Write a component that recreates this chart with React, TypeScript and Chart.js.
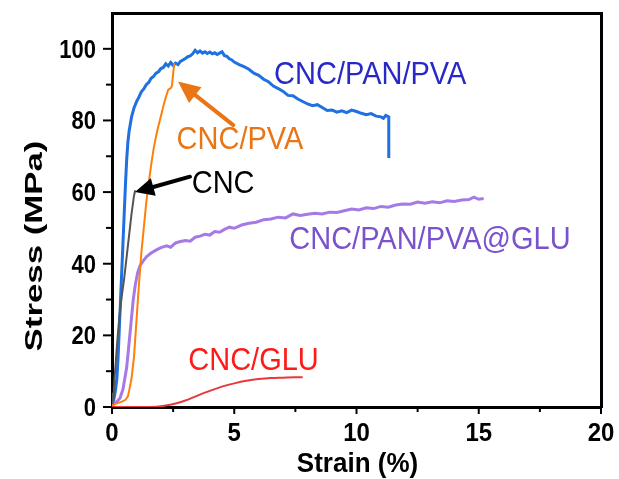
import React, { useEffect, useRef } from 'react';
import { Chart, registerables } from 'chart.js';

Chart.register(...registerables);

// ---- axis ticks ----
const xMajorTicks = [0, 5, 10, 15, 20];
const xMinorTicks = [2.5, 7.5, 12.5, 17.5];
const yMajorTicks = [0, 20, 40, 60, 80, 100];
const yMinorTicks = [10, 30, 50, 70, 90];

// ---- series: strain (%) / stress (MPa) ----
const panPvaStrain = [0, 0.05, 0.1, 0.15, 0.2, 0.25, 0.3, 0.35, 0.4, 0.45, 0.5, 0.55, 0.6, 0.65, 0.7, 0.8, 0.9, 1.0, 1.1, 1.2, 1.3, 1.4, 1.5, 1.6, 1.7, 1.8, 1.9, 2.0, 2.1, 2.2, 2.3, 2.4, 2.5, 2.6, 2.7, 2.8, 2.9, 3.0, 3.1, 3.2, 3.3, 3.4, 3.5, 3.6, 3.7, 3.8, 3.9, 4.0, 4.1, 4.2, 4.3, 4.4, 4.5, 4.6, 4.7, 4.8, 4.9, 5.0, 5.2, 5.4, 5.6, 5.8, 6.0, 6.2, 6.4, 6.6, 6.8, 7.0, 7.2, 7.4, 7.6, 7.8, 8.0, 8.2, 8.4, 8.6, 8.8, 9.0, 9.2, 9.4, 9.6, 9.8, 10.0, 10.2, 10.4, 10.6, 10.8, 11.0, 11.1, 11.2, 11.32, 11.32];
const panPvaStress = [0.5, 1.5, 3, 5, 8, 14, 22, 30, 38, 46, 54, 62, 69, 74, 77, 81, 83.5, 85.2, 86.5, 88, 88.8, 90, 90.6, 91.8, 92.3, 93.2, 93.6, 94.5, 94.8, 95.8, 95.2, 96.2, 95.4, 96.0, 95.6, 96.5, 96.9, 97.3, 97.8, 98.0, 98.6, 99.6, 98.9, 99.4, 98.8, 99.2, 98.7, 99.1, 98.6, 98.9, 98.4, 98.8, 99.2, 98.1, 97.9, 97.2, 96.9, 96.3, 95.6, 95.0, 94.3, 93.2, 92.6, 91.5, 90.8, 89.6, 88.9, 88.1, 87.0, 86.9, 86.0, 85.3, 84.6, 84.1, 84.4, 83.6, 82.8, 82.9, 82.3, 82.7, 82.2, 82.9, 82.5, 82.0, 81.6, 81.9, 81.2, 81.0, 80.6, 81.4, 81.0, 69.5];

const cncStrain = [0, 0.03, 0.06, 0.1, 0.15, 0.2, 0.3, 0.4, 0.5, 0.6, 0.7, 0.8, 0.9, 0.95];
const cncStress = [0, 4, 2, 8, 12, 17, 25, 31, 36, 42, 48, 54, 59, 60.5];

const gluPanPvaStrain = [0, 0.1, 0.2, 0.33, 0.45, 0.6, 0.7, 0.8, 0.87, 0.95, 1.05, 1.15, 1.3, 1.42, 1.6, 1.8, 2.0, 2.24, 2.4, 2.6, 2.8, 3.0, 3.2, 3.4, 3.6, 3.8, 4.0, 4.2, 4.4, 4.6, 4.8, 5.0, 5.3, 5.6, 5.9, 6.2, 6.5, 6.8, 7.1, 7.4, 7.7, 8.0, 8.3, 8.6, 8.9, 9.2, 9.5, 9.8, 10.1, 10.4, 10.7, 11.0, 11.3, 11.6, 11.9, 12.2, 12.5, 12.8, 13.1, 13.4, 13.7, 14.0, 14.3, 14.6, 14.8, 15.0, 15.2];
const gluPanPvaStress = [1, 1.2, 1.5, 2.5, 5, 11, 18, 25, 30, 34, 37.5, 39.5, 41, 42, 43, 43.8, 44.5, 45, 44.6, 45.8, 46.2, 46.5, 46.3, 47.4, 47.7, 48.2, 48.0, 49.0, 48.8, 49.6, 50.2, 49.9, 50.8, 51.3, 51.6, 52.3, 52.5, 53.0, 52.8, 53.9, 53.5, 53.8, 54.1, 53.9, 54.4, 54.3, 54.8, 55.3, 55.0, 55.6, 55.4, 56.0, 55.8, 56.4, 56.7, 56.6, 57.2, 56.9, 57.3, 57.0, 57.6, 57.4, 57.8, 57.9, 58.6, 58.0, 58.2];

const pvaStrain = [0, 0.2, 0.4, 0.55, 0.65, 0.7, 0.8, 0.9, 1.0, 1.1, 1.2, 1.3, 1.4, 1.5, 1.6, 1.7, 1.8, 1.9, 2.0, 2.1, 2.2, 2.3, 2.4, 2.45, 2.5, 2.55];
const pvaStress = [0.5, 1, 1.5, 2, 3, 4.5, 8, 14, 24, 34, 43, 50, 57, 62.5, 67.5, 72, 75.5, 78.5, 81.2, 84, 86.5, 88.6, 89, 89.6, 93, 96];

const gluStrain = [0, 1, 1.8, 2.2, 2.6, 3.0, 3.4, 3.8, 4.2, 4.6, 5.0, 5.5, 6.0, 6.5, 7.0, 7.5, 7.8];
const gluStress = [0, 0, 0.1, 0.4, 1, 1.8, 2.9, 4.0, 5.0, 5.9, 6.6, 7.3, 7.8, 8.1, 8.2, 8.3, 8.3];

// ---- annotations (data coordinates) ----
const labelTexts = ['CNC/PAN/PVA', 'CNC/PVA', 'CNC', 'CNC/PAN/PVA@GLU', 'CNC/GLU'];
const labelX = [6.63, 2.64, 3.26, 7.25, 3.12];
const labelY = [90.3, 72.0, 59.7, 44.1, 10.3];
const labelColors = ['#2828c8', '#ea7514', '#000000', '#7a52cc', '#ff1a1a'];

const arrowFromX = [4.96, 3.19];
const arrowFromY = [78.7, 64.3];
const arrowToX = [2.70, 0.94];
const arrowToY = [90.9, 60.0];
const arrowColors = ['#ea7514', '#000000'];

const toPts = (xs: number[], ys: number[]) => xs.map((x, i) => ({ x, y: ys[i] }));

const FONT = '"Liberation Sans", Arial, sans-serif';

const decorPlugin = {
  id: 'decor',
  afterDatasetsDraw(chart: any) {
    const ctx = chart.ctx as CanvasRenderingContext2D;
    const xs = chart.scales.x;
    const ys = chart.scales.y;
    const L = xs.left;
    const B = ys.bottom;
    ctx.save();
    ctx.setLineDash([]);
    ctx.globalAlpha = 1;
    ctx.strokeStyle = '#000000';
    ctx.lineWidth = 2;
    ctx.lineCap = 'butt';
    const tick = (x1: number, y1: number, x2: number, y2: number) => {
      ctx.beginPath();
      ctx.moveTo(x1, y1);
      ctx.lineTo(x2, y2);
      ctx.stroke();
    };
    xMajorTicks.forEach((v) => { const p = xs.getPixelForValue(v); tick(p, B + 1, p, B + 7); });
    xMinorTicks.forEach((v) => { const p = xs.getPixelForValue(v); tick(p, B + 1, p, B + 5); });
    yMajorTicks.forEach((v) => { const p = ys.getPixelForValue(v); tick(L - 9, p, L - 1, p); });
    yMinorTicks.forEach((v) => { const p = ys.getPixelForValue(v); tick(L - 6, p, L - 1, p); });

    // tick labels
    ctx.fillStyle = '#000';
    ctx.font = 'bold 22px ' + FONT;
    ctx.textBaseline = 'alphabetic';
    ctx.textAlign = 'right';
    yMajorTicks.forEach((v) => {
      const p = ys.getPixelForValue(v);
      ctx.save();
      ctx.translate(L - 16, p + 9);
      ctx.scale(1, 1.15);
      ctx.fillText(String(v), 0, 0);
      ctx.restore();
    });
    ctx.font = 'bold 24px ' + FONT;
    ctx.textAlign = 'center';
    xMajorTicks.forEach((v) => {
      const p = xs.getPixelForValue(v);
      ctx.save();
      ctx.translate(p, B + 34);
      ctx.scale(1, 1.08);
      ctx.fillText(String(v), 0, 0);
      ctx.restore();
    });

    // arrows
    arrowFromX.forEach((_, i) => {
      const x1 = xs.getPixelForValue(arrowFromX[i]);
      const y1 = ys.getPixelForValue(arrowFromY[i]);
      const x2 = xs.getPixelForValue(arrowToX[i]);
      const y2 = ys.getPixelForValue(arrowToY[i]);
      const ang = Math.atan2(y2 - y1, x2 - x1);
      const headLen = i === 0 ? 22 : 19;
      const headHalf = i === 0 ? 10 : 9;
      const bx = x2 - headLen * Math.cos(ang);
      const by = y2 - headLen * Math.sin(ang);
      ctx.strokeStyle = arrowColors[i];
      ctx.fillStyle = arrowColors[i];
      ctx.lineWidth = 4;
      ctx.lineCap = 'round';
      ctx.beginPath();
      ctx.moveTo(x1, y1);
      ctx.lineTo(bx, by);
      ctx.stroke();
      ctx.beginPath();
      ctx.moveTo(x2, y2);
      ctx.lineTo(bx + headHalf * Math.sin(ang), by - headHalf * Math.cos(ang));
      ctx.lineTo(bx - headHalf * Math.sin(ang), by + headHalf * Math.cos(ang));
      ctx.closePath();
      ctx.fill();
    });

    // labels
    ctx.font = '29px ' + FONT;
    ctx.textAlign = 'left';
    ctx.textBaseline = 'alphabetic';
    labelTexts.forEach((t, i) => {
      ctx.fillStyle = labelColors[i];
      ctx.save();
      ctx.translate(xs.getPixelForValue(labelX[i]), ys.getPixelForValue(labelY[i]));
      ctx.scale(1, 1.05);
      ctx.fillText(t, 0, 0);
      ctx.restore();
    });

    // axis titles
    ctx.fillStyle = '#000';
    ctx.font = 'bold 26px ' + FONT;
    ctx.textAlign = 'center';
    ctx.save();
    ctx.translate((xs.left + xs.right) / 2 + 1, 472);
    ctx.scale(1, 1.08);
    ctx.fillText('Strain (%)', 0, 0);
    ctx.restore();

    ctx.save();
    ctx.translate(42, (ys.top + ys.bottom) / 2 + 36);
    ctx.rotate(-Math.PI / 2);
    ctx.scale(1.45, 1);
    ctx.font = 'bold 24px ' + FONT;
    ctx.fillText('Stress (MPa)', 0, 0);
    ctx.restore();

    ctx.restore();
  },
};

const frameBorder = { display: true, width: 3, color: '#000000' };

export default function App() {
  const ref = useRef<HTMLCanvasElement | null>(null);
  useEffect(() => {
    if (!ref.current) return;
    const zeroPad = (s: any) => { s.paddingTop = 0; s.paddingBottom = 0; s.paddingLeft = 0; s.paddingRight = 0; };
    const chart = new Chart(ref.current, {
      type: 'line',
      data: {
        datasets: [
          { label: 'CNC/PVA', data: toPts(pvaStrain, pvaStress), borderColor: '#ff7f0a', borderWidth: 2, pointRadius: 0, tension: 0, order: 1 },
          { label: 'CNC', data: toPts(cncStrain, cncStress), borderColor: '#555555', borderWidth: 2, pointRadius: 0, tension: 0, order: 2 },
          { label: 'CNC/PAN/PVA', data: toPts(panPvaStrain, panPvaStress), borderColor: '#1f70e0', borderWidth: 3, pointRadius: 0, tension: 0, order: 4 },
          { label: 'CNC/PAN/PVA@GLU', data: toPts(gluPanPvaStrain, gluPanPvaStress), borderColor: '#a67ae6', borderWidth: 3, pointRadius: 0, tension: 0, order: 3 },
          { label: 'CNC/GLU', data: toPts(gluStrain, gluStress), borderColor: '#e8383d', borderWidth: 2, pointRadius: 0, tension: 0.3, order: 0 },
        ],
      },
      options: {
        animation: false,
        responsive: false,
        devicePixelRatio: 1,
        parsing: false as any,
        layout: { padding: { left: 0, top: 12, right: 17, bottom: 0 } },
        plugins: { legend: { display: false }, tooltip: { enabled: false } },
        scales: {
          x: {
            type: 'linear',
            min: 0,
            max: 20,
            grid: { display: false, drawTicks: false },
            border: frameBorder,
            afterBuildTicks: (s: any) => { s.ticks = xMajorTicks.map((v) => ({ value: v })); },
            afterFit: (s: any) => { s.height = 72; zeroPad(s); },
            ticks: { display: false },
          },
          x2: {
            type: 'linear',
            position: 'top',
            min: 0,
            max: 20,
            grid: { display: false, drawTicks: false },
            border: frameBorder,
            ticks: { display: false },
            afterFit: (s: any) => { s.height = 1; zeroPad(s); },
          },
          y: {
            type: 'linear',
            min: 0,
            max: 110,
            grid: { display: false, drawTicks: false },
            border: frameBorder,
            afterBuildTicks: (s: any) => { s.ticks = yMajorTicks.map((v) => ({ value: v })); },
            afterFit: (s: any) => { s.width = 112; zeroPad(s); },
            ticks: { display: false },
          },
          y2: {
            type: 'linear',
            position: 'right',
            min: 0,
            max: 110,
            grid: { display: false, drawTicks: false },
            border: frameBorder,
            ticks: { display: false },
            afterFit: (s: any) => { s.width = 1; zeroPad(s); },
          },
        },
      },
      plugins: [decorPlugin],
    });
    return () => chart.destroy();
  }, []);
  return (
    <div style={{ position: 'fixed', left: 0, top: 0, width: 619, height: 479, background: '#fff' }}>
      <canvas ref={ref} width={619} height={479} style={{ width: 619, height: 479 }} />
    </div>
  );
}
